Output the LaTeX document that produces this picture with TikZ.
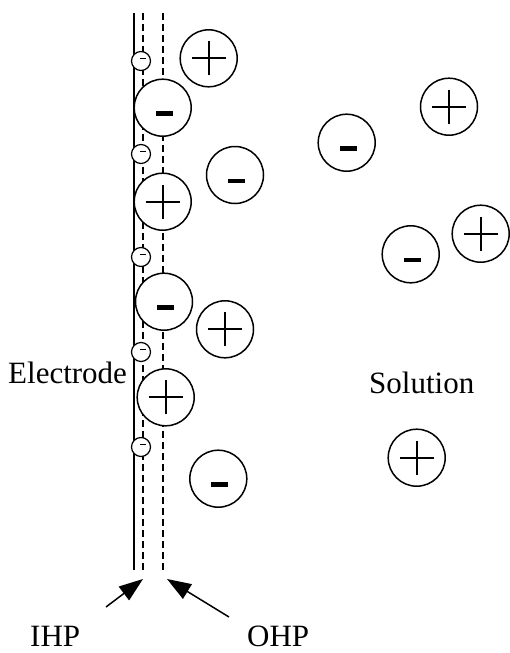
\documentclass[tikz,border=0pt]{standalone}
\usepackage{fontspec}
\setmainfont{Liberation Serif}
\usetikzlibrary{arrows.meta}
\begin{document}
\begin{tikzpicture}[x=1pt,y=-1pt,
  ion/.style={circle, draw, fill=white, line width=1.5pt, minimum size=57pt, inner sep=0pt},
  cation/.style={ion, path picture={
    \draw[black, line width=1.8pt] (path picture bounding box.center) ++(-17pt,0pt) -- ++(34pt,0pt);
    \draw[black, line width=1.8pt] (path picture bounding box.center) ++(0pt,-17pt) -- ++(0pt,34pt);}},
  anion/.style={ion, path picture={
    \fill[black] (path picture bounding box.center) ++(-7pt,-8pt) rectangle ++(17pt,4.5pt);}},
  adsorbed/.style={circle, draw, fill=white, line width=1.2pt, minimum size=19pt, inner sep=0pt,
    path picture={\draw[black, line width=1.4pt] (path picture bounding box.center) ++(-1pt,2.3pt) -- ++(6pt,0pt);}},
  plane/.style={line width=1.3pt, dash pattern=on 7pt off 4pt},
  txt/.style={font=\fontsize{31}{37}\selectfont, inner sep=0pt, anchor=base west},
  pointer/.style={line width=1.5pt, -{Triangle[length=24pt,width=17pt]}}
]
\useasboundingbox (0,0) rectangle (509,653);

% electrode surface, inner and outer Helmholtz planes
\draw[line width=1.3pt] (134,13) -- (134,570);
\draw[plane] (143,13) -- (143,570);
\draw[plane] (163,13) -- (163,570);

% specifically adsorbed anions on the IHP
\foreach \y [count=\i] in {61,154,257,352,447}
  \node[adsorbed] (ad\i) at (141,\y) {};

% solvated ions
\node[cation] (c1) at (208.7,58.3) {};
\node[anion]  (a1) at (162.7,107.7) {};
\node[anion]  (a2) at (235,175) {};
\node[cation] (c2) at (162.7,201.7) {};
\node[anion]  (a3) at (164,301.7) {};
\node[cation] (c3) at (225,329.3) {};
\node[cation] (c4) at (165.7,397.3) {};
\node[anion]  (a4) at (218.3,478.7) {};
\node[cation] (c5) at (449,106.7) {};
\node[anion]  (a5) at (346.7,142.7) {};
\node[anion]  (a6) at (410.7,254.3) {};
\node[cation] (c6) at (480.7,233.7) {};
\node[cation] (c7) at (416.7,457.7) {};

% labels
\node[txt] (electrode) at (8,383) {Electrode};
\node[txt] (solution) at (369,393) {Solution};
\node[txt] (ihp) at (30,646) {IHP};
\node[txt] (ohp) at (247,646) {OHP};

% pointers to the planes
\coordinate (ihptail) at (106,607);
\coordinate (ihptip) at (143,579);
\coordinate (ohptail) at (229,617);
\coordinate (ohptip) at (167,579);
\draw[pointer] (ihptail) -- (ihptip);
\draw[pointer] (ohptail) -- (ohptip);
\end{tikzpicture}
\end{document}
